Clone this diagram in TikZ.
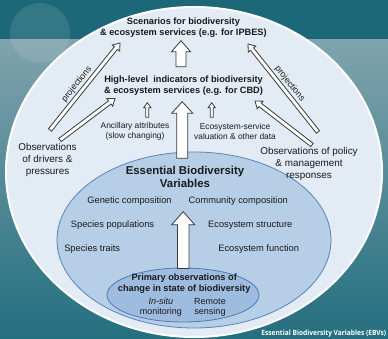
\documentclass[tikz,border=0pt]{standalone}
\usepackage{fontspec}
\setmainfont{Liberation Sans}
\newfontfamily\ebvfont[FakeStretch=0.92]{Open Sans}
\usetikzlibrary{calc}
\definecolor{bgtop}{HTML}{1D6878}
\definecolor{bglight}{HTML}{80A3AD}
\definecolor{bgbottom}{HTML}{246F7F}
\definecolor{outerfill}{HTML}{E3EBF5}
\definecolor{midfill}{HTML}{B7CEE7}
\definecolor{midline}{HTML}{5A85B5}
\definecolor{innerfill}{HTML}{9EBCDF}
\definecolor{innerline}{HTML}{4E7CB1}
\definecolor{txt}{HTML}{1A1A1A}
\definecolor{arrline}{HTML}{3A3A3A}
\tikzset{
  fatarr/.style={draw=arrline, fill=white, line width=0.8pt, line join=miter},
  lbl/.style={text=txt, align=center, inner sep=0pt},
  headfont/.style={font=\fontsize{9.2}{11.2}\selectfont\bfseries},
  obsfont/.style={font=\fontsize{9.9}{11.8}\selectfont},
  itemfont/.style={font=\fontsize{9.3}{11}\selectfont},
  smallfont/.style={font=\fontsize{8.4}{10}\selectfont},
  projfont/.style={font=\fontsize{8.8}{9}\selectfont, text=txt, inner sep=0pt},
}
% #1 tail, #2 tip, #3 half shaft width, #4 half head width, #5 head length
\newcommand\fatarrow[5]{%
  \coordinate (fa@hb) at ($(#2)!#5!(#1)$);
  \draw[fatarr] ($(#1)!#3!90:(#2)$) -- ($(fa@hb)!#3!-90:(#1)$) -- ($(fa@hb)!#4!-90:(#1)$)
    -- (#2) -- ($(fa@hb)!#4!90:(#1)$) -- ($(fa@hb)!#3!90:(#1)$) -- ($(#1)!#3!-90:(#2)$) -- cycle;
}
\begin{document}
\begin{tikzpicture}[x=1pt,y=-1pt]
\useasboundingbox (0,0) rectangle (388,339);
% background
\fill[bgtop] (0,0) rectangle (388,40);
\shade[top color=bglight, bottom color=bgbottom] (0,40) rectangle (388,339);
\fill[white, opacity=0.1] (40,33) circle (30);
% ellipses
\fill[outerfill, draw=white, line width=2pt] (194,172) ellipse [x radius=188, y radius=165];
\fill[midfill, draw=midline, line width=0.8pt] (194,240) ellipse [x radius=137, y radius=88];
\fill[innerfill, draw=innerline, line width=0.8pt] (183,295) ellipse [x radius=76, y radius=27];
% texts
\node[lbl, headfont] (scen) at (183.4,27.5) {Scenarios for biodiversity\\\& ecosystem services (e.g. for IPBES)};
\node[lbl, headfont] (high) at (183.5,85.4) {High-level\ \ indicators of biodiversity\\\& ecosystem services (e.g. for CBD)};
\node[lbl, smallfont] (anc) at (135,131.7) {Ancillary attributes\\(slow changing)};
\node[lbl, smallfont] (eco) at (235,131.7) {Ecosystem-service\\valuation \& other data};
\node[lbl, obsfont] (drv) at (47.5,160) {Observations\\of drivers \&\\pressures};
\node[lbl, obsfont] (pol) at (309,164) {Observations of policy\\\& management\\responses};
\node[lbl, font=\fontsize{11.4}{13.3}\selectfont\bfseries] (ebv) at (185,176.7) {Essential Biodiversity\\Variables};
\node[lbl, itemfont] (gen) at (129.5,200.7) {Genetic composition};
\node[lbl, itemfont] (com) at (238.3,200.7) {Community composition};
\node[lbl, itemfont] (spp) at (112.5,225) {Species populations};
\node[lbl, itemfont] (est) at (250.3,225) {Ecosystem structure};
\node[lbl, itemfont] (spt) at (92.2,249.3) {Species traits};
\node[lbl, itemfont] (efn) at (258.7,249.3) {Ecosystem function};
\node[lbl, headfont] (prim) at (184.2,283.7) {Primary observations of\\change in state of biodiversity};
\node[lbl, font=\fontsize{9}{10.7}\selectfont] (insitu) at (160.8,307.3) {\textit{In-situ}\\monitoring};
\node[lbl, font=\fontsize{9}{10.7}\selectfont] (rem) at (210,307.3) {Remote\\sensing};
\node[inner sep=0pt, text=white, font=\ebvfont\fontsize{7.2}{8}\selectfont\bfseries] (tag) at (323.8,333.5) {Essential Biodiversity Variables (EBVs)};
% arrow end points
\coordinate (a1t) at (181,66.7);   \coordinate (a1h) at (181,40.7);
\coordinate (a2t) at (182.2,158.3); \coordinate (a2h) at (182.2,101.7);
\coordinate (a3t) at (183.2,268.5); \coordinate (a3h) at (183.2,211.7);
\coordinate (s1t) at (147.3,117.3); \coordinate (s1h) at (147.3,102.7);
\coordinate (s2t) at (211.7,117.3); \coordinate (s2h) at (211.7,102.7);
\coordinate (dl1t) at (50,130);  \coordinate (dl1h) at (120,43);
\coordinate (dl2t) at (60,140);  \coordinate (dl2h) at (115,98.5);
\coordinate (dr1t) at (318,132); \coordinate (dr1h) at (248,44);
\coordinate (dr2t) at (312,145); \coordinate (dr2h) at (255,101);
% arrows
\fatarrow{a1t}{a1h}{5pt}{9.5pt}{11pt}
\fatarrow{a2t}{a2h}{5.5pt}{10.5pt}{11.5pt}
\fatarrow{a3t}{a3h}{5.8pt}{11.5pt}{13pt}
\fatarrow{s1t}{s1h}{1.5pt}{3.6pt}{5pt}
\fatarrow{s2t}{s2h}{1.5pt}{3.6pt}{5pt}
\fatarrow{dl1t}{dl1h}{2pt}{4.8pt}{6.5pt}
\fatarrow{dl2t}{dl2h}{2pt}{4.8pt}{6.5pt}
\fatarrow{dr1t}{dr1h}{2pt}{4.8pt}{6.5pt}
\fatarrow{dr2t}{dr2h}{2pt}{4.8pt}{6.5pt}
% projections labels
\path (dl1t) -- (dl1h) node[pos=0.47, sloped, above=3.5pt, projfont] (pl) {projections};
\path (dr1h) -- (dr1t) node[pos=0.51, sloped, above=3.5pt, projfont] (pr) {projections};
\end{tikzpicture}
\end{document}
